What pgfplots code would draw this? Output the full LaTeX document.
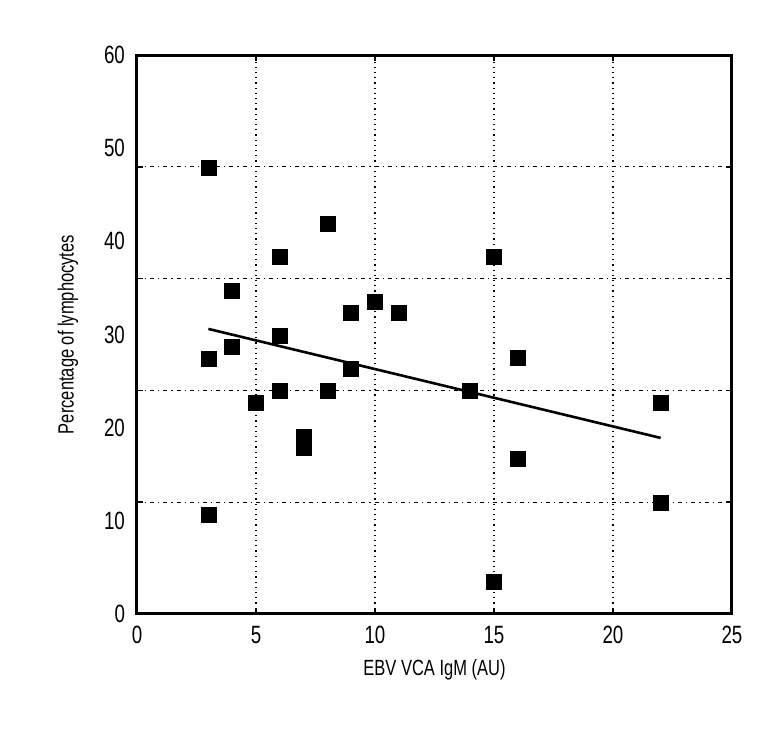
\documentclass[border=0pt]{standalone}
\usepackage{pgfplots}
\pgfplotsset{compat=1.18}
\usepackage{fontspec}
\setmainfont{Liberation Sans}[FakeStretch=0.75]
\begin{document}
\begin{tikzpicture}
\begin{axis}[
  scale only axis, width=297.5pt, height=279.5pt,
  xmin=0, xmax=25, ymin=0, ymax=60,
  axis line style={line width=1.5pt},
  font=\fontsize{11}{13}\selectfont,
  tick label style={font=\fontsize{12.5}{14}\selectfont},
  /pgf/number format/assume math mode=true,
  xtick={0,5,...,25},
  ytick={12,24,36,48}, yticklabels={},
  extra y ticks={0,10,...,60},
  extra y tick style={grid=none, major tick length=0pt},
  xticklabel style={yshift=-2.5pt},
  yticklabel style={xshift=-2.5pt},
  xmajorgrids, ymajorgrids,
  every axis x grid/.style={black, line width=0.6pt, dotted},
  every axis y grid/.style={black, line width=0.6pt, dash pattern=on 2pt off 2pt on 0.6pt off 2pt},
  tick align=inside, major tick length=3pt,
  every tick/.style={black, line width=0.8pt},
  xlabel={EBV VCA IgM (AU)},
  ylabel={Percentage of lymphocytes},
  every axis x label/.style={at={([yshift=-28pt]axis description cs:0.5,0)}, anchor=center},
  every axis y label/.style={at={([xshift=-34.5pt]axis description cs:0,0.5)}, anchor=center, rotate=90},
  clip=false,
]
\addplot[only marks, mark=square*, mark size=3.75pt, mark options={fill=black, draw=black, line width=0.2pt}] coordinates {
(3,47.9) (3,27.4) (3,10.7) (4,34.7) (4,28.7) (5,22.7) (6,38.3) (6,29.9) (6,24)
(7,19) (7,17.9) (8,41.9) (8,24) (9,32.3) (9,26.3) (10,33.5) (11,32.3) (14,24)
(15,38.3) (15,3.5) (16,27.5) (16,16.7) (22,22.7) (22,11.9)
};
\addplot[black, line width=1.3pt] coordinates {(3,30.6) (22,18.9)};
\end{axis}
\path (-68.5pt,-65pt) rectangle (315.5pt,307pt);
\end{tikzpicture}
\end{document}
